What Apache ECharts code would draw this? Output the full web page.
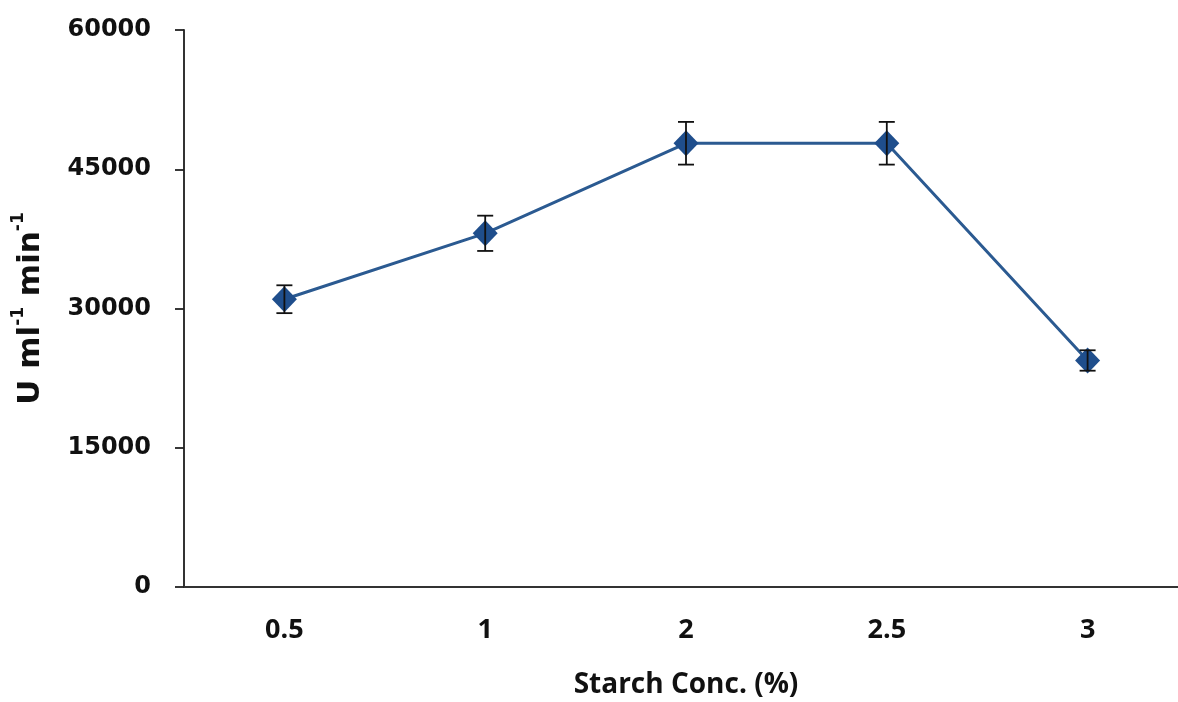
<!DOCTYPE html>
<html>
<head>
    <meta charset="utf-8">
    <title>Starch Conc.</title>
    <script src="https://cdn.jsdelivr.net/npm/echarts@6.0.0/dist/echarts.min.js"></script>
    <style>
        body { margin: 0; background: #fff; }
        #chart { width: 1178px; height: 702px; }
    </style>
</head>
<body>
    <div id="chart"></div>
    <script>
        // data
        var categories = ['0.5', '1', '2', '2.5', '3'];
        var activity = [31000, 38100, 47800, 47800, 24400];
        var errors = [1500, 1900, 2300, 2300, 1100];
        var yTicks = { min: 0, max: 60000, interval: 15000 };

        var chart = echarts.init(document.getElementById('chart'));

        var errData = categories.map(function (c, i) {
            return [i, activity[i] - errors[i], activity[i] + errors[i]];
        });

        var option = {
            backgroundColor: '#fff',
            animation: false,
            grid: { left: 184, top: 30, width: 1004, bottom: 115, outerBoundsMode: 'none', containLabel: false },
            xAxis: {
                type: 'category',
                data: categories,
                boundaryGap: true,
                axisLine: { lineStyle: { color: '#333', width: 2 } },
                axisTick: { alignWithLabel: true, length: 9, lineStyle: { color: '#222', width: 1.8 } },
                axisLabel: {
                    margin: 30,
                    fontFamily: 'Open Sans',
                    fontWeight: 'bold',
                    fontSize: 27,
                    color: '#111'
                },
                name: 'Starch Conc. (%)',
                nameLocation: 'middle',
                nameGap: 84,
                nameTextStyle: {
                    fontFamily: 'Open Sans',
                    fontWeight: 'bold',
                    fontSize: 28,
                    color: '#111'
                }
            },
            yAxis: {
                type: 'value',
                min: yTicks.min,
                max: yTicks.max,
                interval: yTicks.interval,
                splitLine: { show: false },
                axisLine: { show: true, lineStyle: { color: '#333', width: 2 } },
                axisTick: { show: true, length: 9, lineStyle: { color: '#222', width: 1.8 } },
                axisLabel: {
                    margin: 33,
                    formatter: function (v) { return String(v); },
                    fontFamily: 'DejaVu Sans',
                    fontWeight: 'bold',
                    fontSize: 24,
                    color: '#111'
                },
                name: '{b|U ml}{s|-1}{b| min}{s|-1}',
                nameLocation: 'middle',
                nameGap: 138,
                nameTextStyle: {
                    rich: {
                        b: { fontFamily: 'DejaVu Sans', fontWeight: 'bold', fontSize: 31, color: '#111', verticalAlign: 'bottom', lineHeight: 36 },
                        s: { fontFamily: 'DejaVu Sans', fontWeight: 'bold', fontSize: 17, color: '#111', verticalAlign: 'top', lineHeight: 36, padding: [0, 0, 14, 0] }
                    }
                }
            },
            series: [
                {
                    type: 'line',
                    data: activity,
                    symbol: 'diamond',
                    symbolSize: [25, 26],
                    lineStyle: { color: '#2b5a91', width: 3 },
                    itemStyle: { color: '#1f4e8c' },
                    z: 3
                },
                {
                    type: 'custom',
                    data: errData,
                    z: 4,
                    renderItem: function (params, api) {
                        var x = api.value(0);
                        var lo = api.coord([x, api.value(1)]);
                        var hi = api.coord([x, api.value(2)]);
                        var w = 8;
                        var style = { stroke: '#111', lineWidth: 1.8 };
                        return {
                            type: 'group',
                            children: [
                                { type: 'line', shape: { x1: lo[0], y1: lo[1], x2: hi[0], y2: hi[1] }, style: style },
                                { type: 'line', shape: { x1: lo[0] - w, y1: lo[1], x2: lo[0] + w, y2: lo[1] }, style: style },
                                { type: 'line', shape: { x1: hi[0] - w, y1: hi[1], x2: hi[0] + w, y2: hi[1] }, style: style }
                            ]
                        };
                    }
                }
            ]
        };

        chart.setOption(option);
    </script>
</body>
</html>
